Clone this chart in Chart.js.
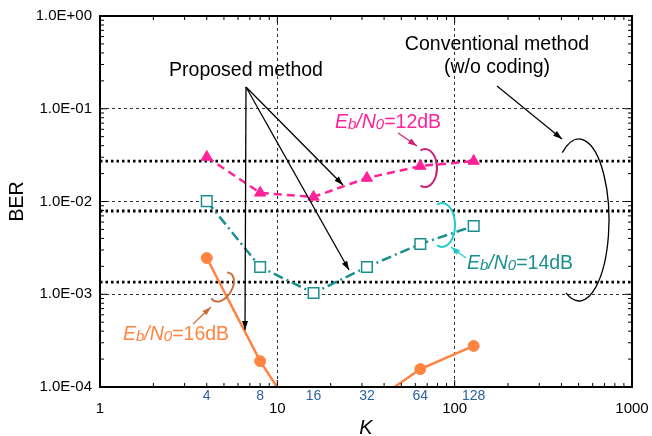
<!DOCTYPE html>
<html>
<head>
<meta charset="utf-8">
<script src="https://cdn.jsdelivr.net/npm/chart.js@4/dist/chart.umd.min.js"></script>
<style>
  html, body { margin: 0; padding: 0; background: #fff; }
  #wrap { width: 652px; height: 436px; }
</style>
</head>
<body>
<div id="wrap"><canvas id="c" width="652" height="436"></canvas></div>
<script>
// ---- data ----
const K = [4, 8, 16, 32, 64, 128];
const kLabels = ['4', '8', '16', '32', '64', '128'];
const ber12dB = [0.0302, 0.0124, 0.0112, 0.0179, 0.0241, 0.0273];
const ber14dB = [0.0101, 0.00197, 0.00103, 0.00197, 0.00348, 0.00544];
const ber16dB = [0.00246, 0.00019, 0.000025, 0.000062, 0.000156, 0.000277];
const conventionalBER = [0.0273, 0.0079, 0.00135];
const xTicks = [1, 10, 100, 1000];
const yTicks = [1e-4, 1e-3, 1e-2, 1e-1, 1];

const FONT = '"Liberation Sans", Arial, Helvetica, sans-serif';
const PINK = '#ff2299', TEAL = '#1a8f8f', ORANGE = '#ff8442';

function fmtE(v) {
  const e = Math.round(Math.log10(v));
  return '1.0E' + (e < 0 ? '-' : '+') + String(Math.abs(e)).padStart(2, '0');
}
const pts = (ys) => K.map((k, i) => ({ x: k, y: ys[i] }));

const datasets = [
  { data: pts(ber12dB), borderColor: PINK, backgroundColor: PINK, borderWidth: 2.5,
    borderDash: [8, 5], pointStyle: 'triangle', pointRadius: 6.5, pointBorderWidth: 1 },
  { data: pts(ber14dB), borderColor: TEAL, backgroundColor: '#ffffff', borderWidth: 2.5,
    borderDash: [10, 4, 2, 4], pointStyle: 'rect', pointRadius: 7.5, pointBorderWidth: 1.5 },
  { data: pts(ber16dB), borderColor: ORANGE, backgroundColor: ORANGE, borderWidth: 2.5,
    pointStyle: 'circle', pointRadius: 5.5, pointBorderWidth: 1 }
];
conventionalBER.forEach(v => datasets.push({
  data: [{ x: xTicks[0], y: v }, { x: xTicks[xTicks.length - 1], y: v }],
  borderColor: '#000', borderWidth: 2.8, borderDash: [2.5, 3], pointRadius: 0, clip: 2
}));

function arrow(ctx, x1, y1, x2, y2, color, lw) {
  ctx.save();
  ctx.strokeStyle = color; ctx.fillStyle = color; ctx.lineWidth = lw || 1.2;
  ctx.beginPath(); ctx.moveTo(x1, y1); ctx.lineTo(x2, y2); ctx.stroke();
  const a = Math.atan2(y2 - y1, x2 - x1), L = 9, W = 3;
  ctx.beginPath();
  ctx.moveTo(x2, y2);
  ctx.lineTo(x2 - L * Math.cos(a) + W * Math.sin(a), y2 - L * Math.sin(a) - W * Math.cos(a));
  ctx.lineTo(x2 - L * Math.cos(a) - W * Math.sin(a), y2 - L * Math.sin(a) + W * Math.cos(a));
  ctx.closePath(); ctx.fill();
  ctx.restore();
}
function ebn0(ctx, x, y, rest, color) {
  const parts = [
    ['italic 19.5px ' + FONT, 'E', 0], ['italic 15px ' + FONT, 'b', 1],
    ['italic 19.5px ' + FONT, '/', 0], ['italic 19.5px ' + FONT, 'N', 0],
    ['italic 15px ' + FONT, '0', 1], ['19.5px ' + FONT, rest, 0]
  ];
  ctx.save(); ctx.fillStyle = color; ctx.textBaseline = 'alphabetic'; ctx.textAlign = 'left';
  let cx = x;
  parts.forEach(([f, t, dy]) => { ctx.font = f; ctx.fillText(t, cx, y + dy); cx += ctx.measureText(t).width; });
  ctx.restore();
}
function arc(ctx, cx, cy, rx, ry, rot, a0, a1, color, lw) {
  ctx.save(); ctx.strokeStyle = color; ctx.lineWidth = lw || 1.5;
  ctx.beginPath(); ctx.ellipse(cx, cy, rx, ry, rot, a0, a1); ctx.stroke(); ctx.restore();
}

const deco = {
  id: 'deco',
  afterDraw(chart) {
    const ctx = chart.ctx, a = chart.chartArea;
    const xs = chart.scales.x, ys = chart.scales.y;
    ctx.save();
    // frame
    ctx.strokeStyle = '#000'; ctx.lineWidth = 2;
    ctx.strokeRect(a.left, a.top, a.right - a.left, a.bottom - a.top);
    // minor / major ticks, inward on all sides
    ctx.lineWidth = 1;
    for (let d = 0; d < 3; d++) for (let m = 1; m <= 9; m++) {
      const v = Math.pow(10, d) * m; const px = xs.getPixelForValue(v);
      const len = m === 1 ? 7 : 4;
      if (px <= a.left + 1) continue;
      ctx.beginPath(); ctx.moveTo(px, a.bottom); ctx.lineTo(px, a.bottom - len);
      ctx.moveTo(px, a.top); ctx.lineTo(px, a.top + len); ctx.stroke();
    }
    for (let d = -4; d < 0; d++) for (let m = 1; m <= 9; m++) {
      const v = Math.pow(10, d) * m; const py = ys.getPixelForValue(v);
      const len = m === 1 ? 7 : 4;
      if (py >= a.bottom - 1) continue;
      ctx.beginPath(); ctx.moveTo(a.left, py); ctx.lineTo(a.left + len, py);
      ctx.moveTo(a.right, py); ctx.lineTo(a.right - len, py); ctx.stroke();
    }
    // axis titles
    ctx.fillStyle = '#000';
    ctx.font = 'italic 20px ' + FONT; ctx.textAlign = 'center'; ctx.textBaseline = 'middle';
    ctx.fillText('K', (a.left + a.right) / 2, 428);
    ctx.save(); ctx.translate(18, (a.top + a.bottom) / 2); ctx.rotate(-Math.PI / 2);
    ctx.font = '19.5px ' + FONT; ctx.fillText('BER', 0, 0); ctx.restore();
    // K labels
    ctx.fillStyle = '#2b5f9e'; ctx.font = '14px ' + FONT;
    K.forEach((k, i) => ctx.fillText(kLabels[i], xs.getPixelForValue(k), 396));
    // texts
    ctx.fillStyle = '#000'; ctx.font = '19.5px ' + FONT;
    ctx.fillText('Proposed method', 246, 71);
    ctx.fillText('Conventional method', 497, 45);
    ctx.fillText('(w/o coding)', 497, 68);
    // proposed arrows
    arrow(ctx, 246, 87, 245, 330, '#000', 1.3);
    arrow(ctx, 246, 87, 343, 185, '#000', 1.3);
    arrow(ctx, 246, 87, 349, 270, '#000', 1.3);
    // conventional arrow + ellipse
    arrow(ctx, 497, 86, 562, 139, '#000', 1.2);
    arc(ctx, 579, 220, 30, 81, 0, -2.16, 2.02, '#000', 1.3);
    // Eb/N0 labels
    ebn0(ctx, 335, 128, '=12dB', PINK);
    arrow(ctx, 398, 133, 417, 146, '#cc1f78', 1.2);
    arc(ctx, 425, 168, 12, 19, 0, -1.95, 1.95, '#cc1f78', 2);
    ebn0(ctx, 467, 269, '=14dB', TEAL);
    arrow(ctx, 466, 258, 451, 247, '#22cccc', 1.2);
    arc(ctx, 442, 225, 13, 22, 0, -1.95, 1.95, '#22cccc', 2);
    ebn0(ctx, 123, 340, '=16dB', ORANGE);
    arrow(ctx, 193, 324, 211, 307, '#c8703a', 1.2);
    arc(ctx, 222, 287, 10, 16, 0.55, -1.9, 1.9, '#c8703a', 2);
    ctx.restore();
  }
};

const gridColor = (ctx, ends) => (ctx.tick && ends.includes(ctx.tick.value)) ? 'rgba(0,0,0,0)' : 'rgba(0,0,0,0.8)';

new Chart(document.getElementById('c'), {
  type: 'line',
  data: { datasets },
  options: {
    responsive: false, animation: false, events: [],
    layout: { padding: { top: 16, right: 20, left: 0, bottom: 0 } },
    plugins: { legend: { display: false }, tooltip: { enabled: false } },
    scales: {
      x: {
        type: 'logarithmic', min: 1, max: 1000,
        afterBuildTicks: s => { s.ticks = xTicks.map(v => ({ value: v })); },
        afterFit: s => { s.height = 49; s.paddingLeft = 0; s.paddingRight = 0; },
        ticks: { color: '#000', font: { family: FONT, size: 15 }, padding: 13, maxRotation: 0,
                 callback: v => String(v), autoSkip: false },
        grid: { drawTicks: false, lineWidth: 1, color: c => gridColor(c, [1, 1000]) },
        border: { display: false, dash: [3, 3] }
      },
      y: {
        type: 'logarithmic', min: 1e-4, max: 1,
        afterBuildTicks: s => { s.ticks = yTicks.map(v => ({ value: v })); },
        afterFit: s => { s.width = 100; s.paddingTop = 0; s.paddingBottom = 0; },
        ticks: { color: '#000', font: { family: FONT, size: 15 }, padding: 8,
                 callback: v => fmtE(v), autoSkip: false },
        grid: { drawTicks: false, lineWidth: 1, color: c => gridColor(c, [1e-4, 1]) },
        border: { display: false, dash: [3, 3] }
      }
    }
  },
  plugins: [deco]
});
</script>
</body>
</html>
